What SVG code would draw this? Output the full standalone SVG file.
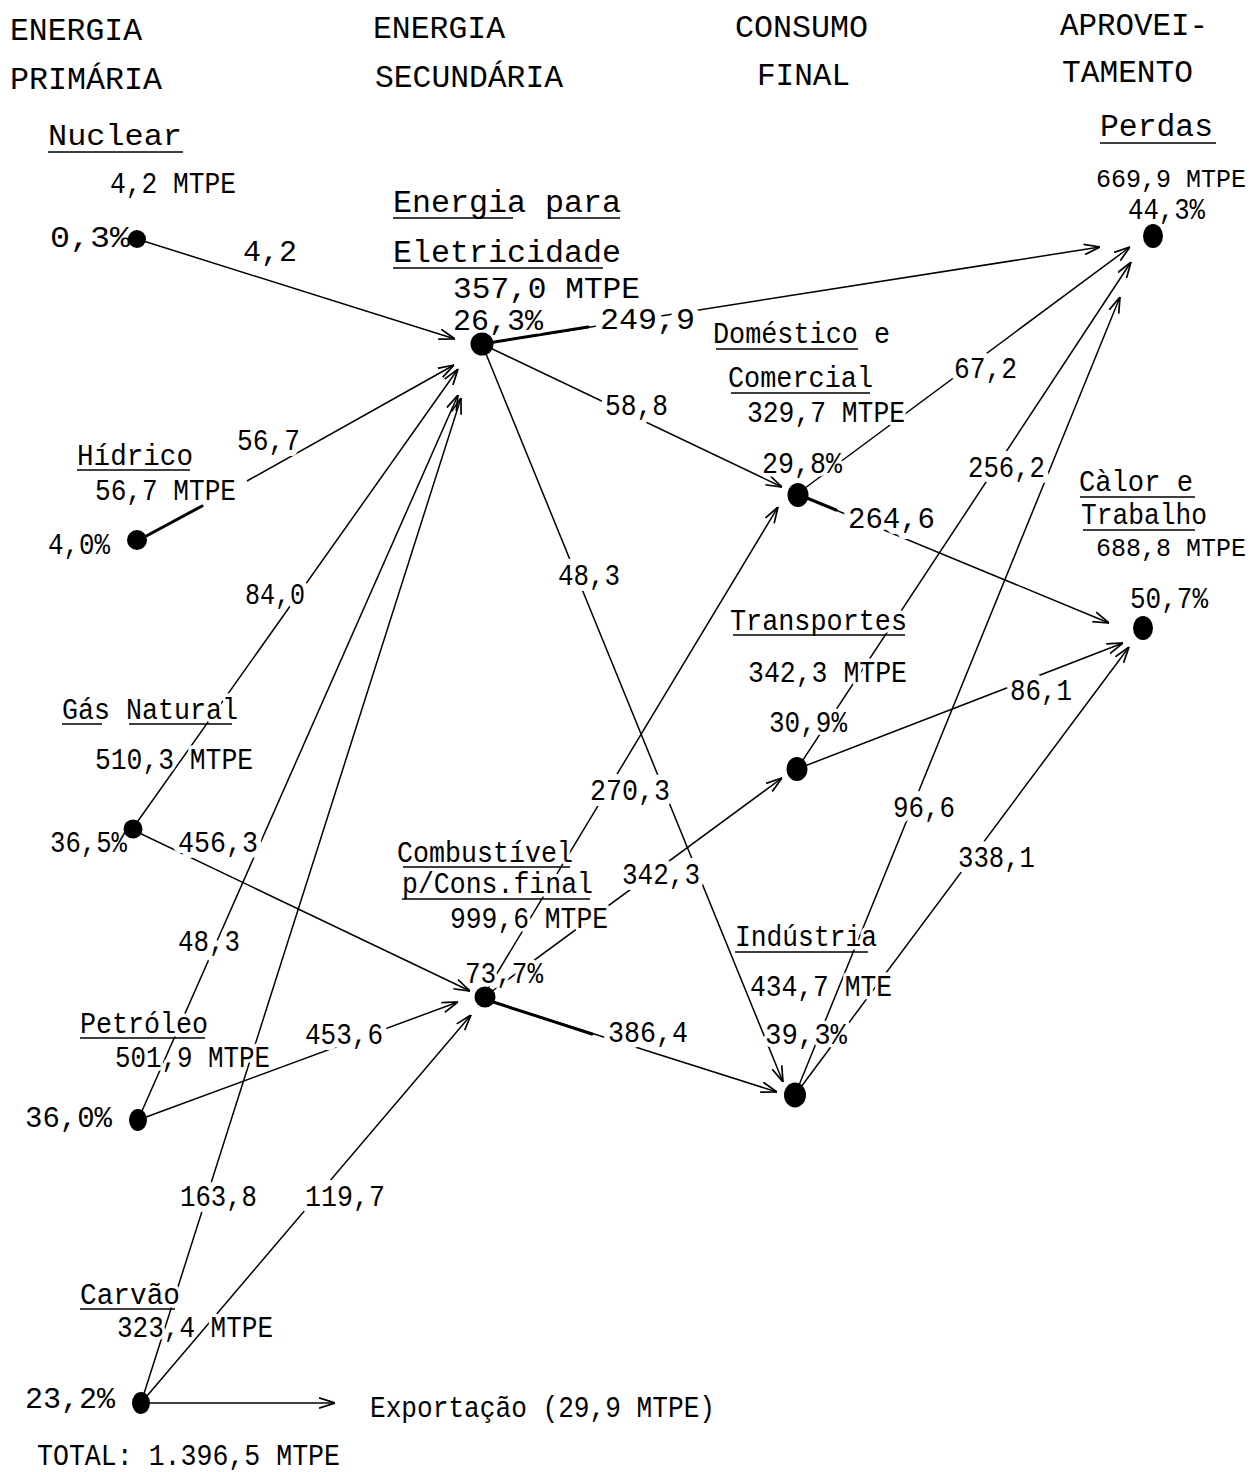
<svg xmlns="http://www.w3.org/2000/svg" width="1257" height="1472" viewBox="0 0 1257 1472" font-family="'Liberation Mono', 'DejaVu Sans Mono', monospace">
  <style>
    .bg { fill: #fff; stroke: #fff; stroke-width: 7px; stroke-linejoin: round; }
    .bgw { fill: #fff; stroke: #fff; stroke-width: 12px; stroke-linejoin: round; }
    .ln { stroke: #000; stroke-width: 1.5; fill: none; }
    .thick { stroke: #000; stroke-width: 3; fill: none; stroke-linecap: round; }
    .arr { marker-end: url(#head); }
    .ul { stroke: #000; stroke-width: 1.6; fill: none; }
    .dot { fill: #000; }
  </style>
  <defs>
    <marker id="head" viewBox="0 0 14 10" refX="14" refY="5" markerUnits="userSpaceOnUse" markerWidth="16" markerHeight="12" orient="auto">
      <path d="M0,0.5 L14,5 L0,9.5" fill="none" stroke="#000" stroke-width="1.5"/>
    </marker>
  </defs>
  <rect width="1257" height="1472" fill="#fff"/>

  <!-- column headings -->
  <g id="headings" font-size="31">
    <text x="10" y="40" textLength="132" lengthAdjust="spacingAndGlyphs">ENERGIA</text>
    <text x="10" y="89" textLength="152" lengthAdjust="spacingAndGlyphs">PRIMÁRIA</text>
    <text x="373" y="38" textLength="132" lengthAdjust="spacingAndGlyphs">ENERGIA</text>
    <text x="375" y="87" textLength="188" lengthAdjust="spacingAndGlyphs">SECUNDÁRIA</text>
    <text x="735" y="37" textLength="133" lengthAdjust="spacingAndGlyphs">CONSUMO</text>
    <text x="757" y="85" textLength="93" lengthAdjust="spacingAndGlyphs">FINAL</text>
    <text x="1060" y="35" textLength="148" lengthAdjust="spacingAndGlyphs">APROVEI-</text>
    <text x="1062" y="82" textLength="131" lengthAdjust="spacingAndGlyphs">TAMENTO</text>
  </g>

  <!-- flows between sources, converters, uses and destinations -->
  <g id="connectors">
    <line class="ln arr" x1="137" y1="239" x2="455" y2="339"/>
    <line class="thick" x1="137" y1="541" x2="202" y2="506"/>
    <line class="ln arr" x1="247" y1="481" x2="454" y2="365"/>
    <line class="ln arr" x1="133" y1="828" x2="458" y2="369"/>
    <line class="ln arr" x1="133" y1="830" x2="470" y2="991"/>
    <line class="ln arr" x1="138" y1="1120" x2="458" y2="395"/>
    <line class="ln arr" x1="138" y1="1120" x2="458" y2="1002"/>
    <line class="ln arr" x1="141" y1="1403" x2="461" y2="398"/>
    <line class="ln arr" x1="141" y1="1403" x2="471" y2="1015"/>
    <line class="ln arr" x1="141" y1="1403" x2="335" y2="1403"/>
    <line class="ln arr" x1="482" y1="344" x2="1100" y2="247"/>
    <line class="thick" x1="482" y1="344" x2="588" y2="327"/>
    <line class="ln arr" x1="482" y1="344" x2="782" y2="487"/>
    <line class="ln arr" x1="482" y1="344" x2="783" y2="1082"/>
    <line class="ln arr" x1="487" y1="990" x2="778" y2="507"/>
    <line class="ln arr" x1="487" y1="995" x2="782" y2="778"/>
    <line class="ln arr" x1="487" y1="1000" x2="777" y2="1092"/>
    <line class="thick" x1="487" y1="1000" x2="592" y2="1034"/>
    <line class="ln arr" x1="797" y1="494" x2="1130" y2="247"/>
    <line class="ln arr" x1="797" y1="494" x2="1109" y2="623"/>
    <line class="thick" x1="797" y1="494" x2="836" y2="510"/>
    <line class="ln arr" x1="797" y1="769" x2="1131" y2="262"/>
    <line class="ln arr" x1="797" y1="769" x2="1123" y2="643"/>
    <line class="ln arr" x1="795" y1="1095" x2="1120" y2="297"/>
    <line class="ln arr" x1="795" y1="1095" x2="1129" y2="647"/>

    <!-- flow quantities; the white copy opens a gap in the lines -->
    <use href="#flow-labels" class="bgw"/>
    <g id="flow-labels" font-size="29">
      <text x="243" y="261" textLength="54" lengthAdjust="spacingAndGlyphs">4,2</text>
      <text x="237" y="450" textLength="63" lengthAdjust="spacingAndGlyphs">56,7</text>
      <text x="245" y="604" textLength="60" lengthAdjust="spacingAndGlyphs">84,0</text>
      <text x="178" y="852" textLength="80" lengthAdjust="spacingAndGlyphs">456,3</text>
      <text x="178" y="951" textLength="62" lengthAdjust="spacingAndGlyphs">48,3</text>
      <text x="305" y="1044" textLength="78" lengthAdjust="spacingAndGlyphs">453,6</text>
      <text x="180" y="1206" textLength="77" lengthAdjust="spacingAndGlyphs">163,8</text>
      <text x="305" y="1206" textLength="80" lengthAdjust="spacingAndGlyphs">119,7</text>
      <text x="600" y="329" textLength="95" lengthAdjust="spacingAndGlyphs">249,9</text>
      <text x="605" y="415" textLength="63" lengthAdjust="spacingAndGlyphs">58,8</text>
      <text x="558" y="585" textLength="62" lengthAdjust="spacingAndGlyphs">48,3</text>
      <text x="590" y="800" textLength="80" lengthAdjust="spacingAndGlyphs">270,3</text>
      <text x="622" y="884" textLength="78" lengthAdjust="spacingAndGlyphs">342,3</text>
      <text x="608" y="1042" textLength="80" lengthAdjust="spacingAndGlyphs">386,4</text>
      <text x="954" y="378" textLength="63" lengthAdjust="spacingAndGlyphs">67,2</text>
      <text x="848" y="528" textLength="87" lengthAdjust="spacingAndGlyphs">264,6</text>
      <text x="968" y="477" textLength="77" lengthAdjust="spacingAndGlyphs">256,2</text>
      <text x="1010" y="700" textLength="62" lengthAdjust="spacingAndGlyphs">86,1</text>
      <text x="893" y="817" textLength="62" lengthAdjust="spacingAndGlyphs">96,6</text>
      <text x="958" y="867" textLength="77" lengthAdjust="spacingAndGlyphs">338,1</text>
      <text x="370" y="1417" textLength="345" lengthAdjust="spacingAndGlyphs">Exportação (29,9 MTPE)</text>
    </g>
  </g>

  <!-- primary sources -->
  <g id="nuclear">
    <use href="#nuclear-t" class="bg"/>
    <g id="nuclear-t" font-size="29">
      <text x="48" y="145" font-size="30" textLength="134" lengthAdjust="spacingAndGlyphs">Nuclear</text>
      <text x="110" y="193" textLength="126" lengthAdjust="spacingAndGlyphs">4,2 MTPE</text>
      <text x="50" y="247" textLength="80" lengthAdjust="spacingAndGlyphs">0,3%</text>
    </g>
    <path class="ul" d="M48,152 H183"/>
    <circle class="dot" cx="137" cy="239" r="9"/>
  </g>
  <g id="hidrico">
    <use href="#hidrico-t" class="bg"/>
    <g id="hidrico-t" font-size="29">
      <text x="77" y="465" font-size="30" textLength="116" lengthAdjust="spacingAndGlyphs">Hídrico</text>
      <text x="95" y="500" textLength="141" lengthAdjust="spacingAndGlyphs">56,7 MTPE</text>
      <text x="48" y="554" textLength="62" lengthAdjust="spacingAndGlyphs">4,0%</text>
    </g>
    <path class="ul" d="M77,470 H190"/>
    <circle class="dot" cx="137" cy="540" r="10"/>
  </g>
  <g id="gas-natural">
    <use href="#gas-t" class="bg"/>
    <g id="gas-t" font-size="29">
      <text x="62" y="719" font-size="30" textLength="176" lengthAdjust="spacingAndGlyphs">Gás Natural</text>
      <text x="95" y="769" textLength="158" lengthAdjust="spacingAndGlyphs">510,3 MTPE</text>
      <text x="50" y="852" textLength="77" lengthAdjust="spacingAndGlyphs">36,5%</text>
    </g>
    <path class="ul" d="M62,724 H102 M129,724 H232"/>
    <circle class="dot" cx="133" cy="829" r="9.5"/>
  </g>
  <g id="petroleo">
    <use href="#petroleo-t" class="bg"/>
    <g id="petroleo-t" font-size="29">
      <text x="80" y="1033" font-size="30" textLength="128" lengthAdjust="spacingAndGlyphs">Petróleo</text>
      <text x="115" y="1067" textLength="155" lengthAdjust="spacingAndGlyphs">501,9 MTPE</text>
      <text x="25" y="1127" textLength="87" lengthAdjust="spacingAndGlyphs">36,0%</text>
    </g>
    <path class="ul" d="M80,1038 H205"/>
    <ellipse class="dot" cx="138" cy="1120" rx="9" ry="11"/>
  </g>
  <g id="carvao">
    <use href="#carvao-t" class="bg"/>
    <g id="carvao-t" font-size="29">
      <text x="80" y="1304" font-size="30" textLength="100" lengthAdjust="spacingAndGlyphs">Carvão</text>
      <text x="117" y="1337" textLength="156" lengthAdjust="spacingAndGlyphs">323,4 MTPE</text>
      <text x="25" y="1408" textLength="90" lengthAdjust="spacingAndGlyphs">23,2%</text>
    </g>
    <path class="ul" d="M80,1309 H175"/>
    <ellipse class="dot" cx="141" cy="1403" rx="9" ry="11"/>
  </g>

  <!-- secondary energy -->
  <g id="eletricidade">
    <use href="#eletricidade-t" class="bg"/>
    <g id="eletricidade-t" font-size="29">
      <text x="393" y="212" font-size="31" textLength="228" lengthAdjust="spacingAndGlyphs">Energia para</text>
      <text x="393" y="262" font-size="31" textLength="228" lengthAdjust="spacingAndGlyphs">Eletricidade</text>
      <text x="453" y="298" textLength="187" lengthAdjust="spacingAndGlyphs">357,0 MTPE</text>
      <text x="453" y="330" textLength="90" lengthAdjust="spacingAndGlyphs">26,3%</text>
    </g>
    <path class="ul" d="M393,218 H513 M548,218 H620 M393,268 H603"/>
    <circle class="dot" cx="482" cy="344" r="11.5"/>
  </g>
  <g id="combustivel">
    <use href="#combustivel-t" class="bg"/>
    <g id="combustivel-t" font-size="29">
      <text x="397" y="862" font-size="30" textLength="176" lengthAdjust="spacingAndGlyphs">Combustível</text>
      <text x="402" y="893" font-size="30" textLength="191" lengthAdjust="spacingAndGlyphs">p/Cons.final</text>
      <text x="450" y="928" textLength="158" lengthAdjust="spacingAndGlyphs">999,6 MTPE</text>
      <text x="465" y="983" textLength="78" lengthAdjust="spacingAndGlyphs">73,7%</text>
    </g>
    <path class="ul" d="M403,867 H570 M402,899 H590"/>
    <circle class="dot" cx="485" cy="997" r="10.5"/>
  </g>

  <!-- final consumption -->
  <g id="domestico">
    <use href="#domestico-t" class="bg"/>
    <g id="domestico-t" font-size="29">
      <text x="713" y="343" font-size="30" textLength="177" lengthAdjust="spacingAndGlyphs">Doméstico e</text>
      <text x="728" y="387" font-size="30" textLength="145" lengthAdjust="spacingAndGlyphs">Comercial</text>
      <text x="747" y="422" textLength="158" lengthAdjust="spacingAndGlyphs">329,7 MTPE</text>
      <text x="762" y="473" textLength="80" lengthAdjust="spacingAndGlyphs">29,8%</text>
    </g>
    <path class="ul" d="M716,349 H858 M731,393 H870"/>
    <ellipse class="dot" cx="798" cy="495" rx="10.5" ry="12"/>
  </g>
  <g id="transportes">
    <use href="#transportes-t" class="bg"/>
    <g id="transportes-t" font-size="29">
      <text x="730" y="630" font-size="30" textLength="177" lengthAdjust="spacingAndGlyphs">Transportes</text>
      <text x="748" y="682" textLength="159" lengthAdjust="spacingAndGlyphs">342,3 MTPE</text>
      <text x="769" y="732" textLength="78" lengthAdjust="spacingAndGlyphs">30,9%</text>
    </g>
    <path class="ul" d="M733,635 H905"/>
    <ellipse class="dot" cx="797" cy="769" rx="10.5" ry="12"/>
  </g>
  <g id="industria">
    <use href="#industria-t" class="bg"/>
    <g id="industria-t" font-size="29">
      <text x="735" y="946" font-size="30" textLength="142" lengthAdjust="spacingAndGlyphs">Indústria</text>
      <text x="750" y="996" textLength="142" lengthAdjust="spacingAndGlyphs">434,7 MTE</text>
      <text x="765" y="1044" textLength="82" lengthAdjust="spacingAndGlyphs">39,3%</text>
    </g>
    <path class="ul" d="M735,952 H868"/>
    <ellipse class="dot" cx="795" cy="1095" rx="11" ry="12.5"/>
  </g>

  <!-- end use -->
  <g id="perdas">
    <use href="#perdas-t" class="bg"/>
    <g id="perdas-t" font-size="29">
      <text x="1100" y="136" font-size="31" textLength="113" lengthAdjust="spacingAndGlyphs">Perdas</text>
      <text x="1096" y="187" font-size="26" textLength="150" lengthAdjust="spacingAndGlyphs">669,9 MTPE</text>
      <text x="1128" y="219" textLength="77" lengthAdjust="spacingAndGlyphs">44,3%</text>
    </g>
    <path class="ul" d="M1100,143 H1216"/>
    <ellipse class="dot" cx="1153" cy="236" rx="10" ry="12"/>
  </g>
  <g id="calor-trabalho">
    <use href="#calor-t" class="bg"/>
    <g id="calor-t" font-size="29">
      <text x="1079" y="491" font-size="30" textLength="114" lengthAdjust="spacingAndGlyphs">Càlor e</text>
      <text x="1081" y="524" font-size="30" textLength="126" lengthAdjust="spacingAndGlyphs">Trabalho</text>
      <text x="1096" y="556" font-size="26" textLength="150" lengthAdjust="spacingAndGlyphs">688,8 MTPE</text>
      <text x="1130" y="608" textLength="78" lengthAdjust="spacingAndGlyphs">50,7%</text>
    </g>
    <path class="ul" d="M1080,497 H1195 M1083,530 H1195"/>
    <ellipse class="dot" cx="1143" cy="628" rx="10" ry="12"/>
  </g>

  <g id="total" font-size="29">
    <text x="37" y="1465" textLength="303" lengthAdjust="spacingAndGlyphs">TOTAL: 1.396,5 MTPE</text>
  </g>
</svg>
